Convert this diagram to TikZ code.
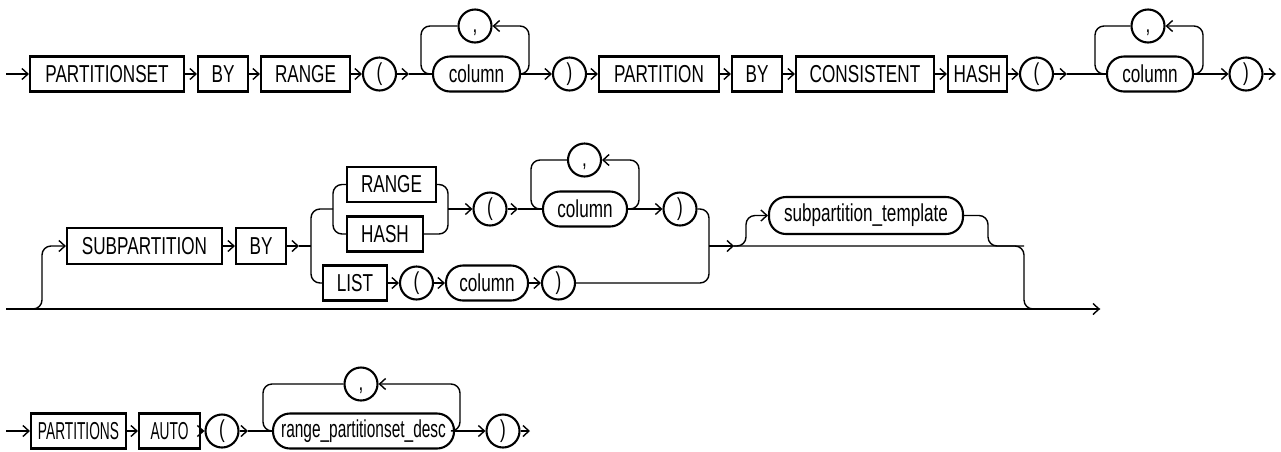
\documentclass[tikz,border=0pt]{standalone}
\usepackage{fontspec}
\setmainfont{Liberation Sans}[FakeStretch=0.70]
\newfontfamily\narrowcaps{Liberation Sans}[FakeStretch=0.56]
\newfontfamily\narrowlow{Liberation Sans}[FakeStretch=0.63]
\usetikzlibrary{arrows.meta}
\tikzset{
  kw/.style={draw, line width=2.1pt, minimum height=35pt, inner sep=0pt, font=\fontsize{24.5}{28}\selectfont},
  nt/.style={kw, rounded corners=17pt},
  sym/.style={draw, circle, line width=2.1pt, minimum size=33pt, inner sep=0pt, text height=17pt, text depth=4pt, font=\fontsize{24.5}{28}\selectfont},
  conn/.style={line width=1.4pt},
  tip/.style={-{Straight Barb[length=6pt,width=11pt]}},
  arr/.style={conn, tip},
  lp/.style={conn, rounded corners=9pt}
}
\begin{document}
\begin{tikzpicture}[x=1pt,y=-1pt]
\useasboundingbox (0,0) rectangle (1281,451);
% ---------------- Row 1 ----------------
\node[kw, minimum width=154pt] (pset) at (107,74) {PARTITIONSET};
\node[kw, minimum width=50pt] (by1) at (223,74) {BY};
\node[kw, minimum width=89pt] (rng1) at (305.5,74) {RANGE};
\node[sym] (lp1) at (379.5,74) {(};
\node[nt, minimum width=87pt] (col1) at (476.5,74) {column};
\node[sym] (c1) at (475,26) {,};
\node[sym] (rp1) at (569.5,74) {)};
\node[kw, minimum width=120pt] (part) at (659,74) {PARTITION};
\node[kw, minimum width=50pt] (by2) at (757,74) {BY};
\node[kw, minimum width=138pt] (cons) at (865,74) {CONSISTENT};
\node[kw, minimum width=59pt] (hsh1) at (977.5,74) {HASH};
\node[sym] (lp2) at (1036.5,74) {(};
\node[nt, minimum width=86pt] (col2) at (1150,74) {column};
\node[sym] (c2) at (1148,26) {,};
\node[sym] (rp2) at (1246,74) {)};
\coordinate (s1) at (6,74);
\coordinate (a1) at (409,74);
\coordinate (l1l) at (421,74);
\coordinate (l1r) at (529,74);
\coordinate (a2) at (1067,74);
\coordinate (l2l) at (1095,74);
\coordinate (l2r) at (1203,74);
\coordinate (e1) at (1276,74);
\draw[arr] (s1) -- (pset);
\draw[arr] (pset) -- (by1);
\draw[arr] (by1) -- (rng1);
\draw[arr] (rng1) -- (lp1);
\draw[arr] (lp1) -- (a1);
\draw[conn] (a1) -- (col1);
\draw[lp, tip] (col1.east) -- (l1r) -- (l1r |- c1) -- (c1);
\draw[lp] (c1) -- (l1l |- c1) -- (l1l) -- (col1.west);
\draw[arr] (col1) -- (rp1);
\draw[arr] (rp1) -- (part);
\draw[arr] (part) -- (by2);
\draw[arr] (by2) -- (cons);
\draw[arr] (cons) -- (hsh1);
\draw[arr] (hsh1) -- (lp2);
\draw[arr] (lp2) -- (a2);
\draw[conn] (a2) -- (col2);
\draw[lp, tip] (col2.east) -- (l2r) -- (l2r |- c2) -- (c2);
\draw[lp] (c2) -- (l2l |- c2) -- (l2l) -- (col2.west);
\draw[arr] (col2) -- (rp2);
\draw[arr] (rp2) -- (e1);
% ---------------- Row 2 ----------------
\node[kw, minimum width=155pt, minimum height=36pt] (sub) at (144.5,246) {SUBPARTITION};
\node[kw, minimum width=50pt, minimum height=36pt] (by3) at (261,246) {BY};
\node[kw, minimum width=89pt] (rng2) at (391.5,184.5) {RANGE};
\node[kw, minimum width=76pt] (hsh2) at (385,234) {HASH};
\node[kw, minimum width=64pt] (lst) at (355,283) {LIST};
\node[sym] (lp3) at (416.5,283) {(};
\node[nt, minimum width=82pt] (col3) at (487,283) {column};
\node[sym] (rp3) at (558.5,283) {)};
\node[sym] (lp4) at (490,209) {(};
\node[nt, minimum width=84pt] (col4) at (585,209) {column};
\node[sym] (c4) at (584.5,160) {,};
\node[sym] (rp4) at (680,209) {)};
\node[nt, minimum width=194pt, minimum height=37pt] (tmpl) at (866,215.5) {subpartition\_template};
\coordinate (s2) at (6,309);
\coordinate (e2) at (1100,309);
\coordinate (j2a) at (42,309);
\coordinate (a3) at (299,246);
\coordinate (j3) at (311,246);
\coordinate (j3u) at (333,209);
\coordinate (j4) at (448,209);
\coordinate (a4) at (518,209);
\coordinate (l4l) at (531,209);
\coordinate (l4r) at (639,209);
\coordinate (j5) at (709,246);
\coordinate (a5) at (734,246);
\coordinate (t1) at (746,246);
\coordinate (t2) at (988,246);
\coordinate (j6) at (1024,246);
\draw[arr] (s2) -- (e2);
\draw[lp, tip] (s2) -- (j2a) -- (j2a |- sub) -- (sub);
\draw[arr] (sub) -- (by3);
\draw[arr] (by3) -- (a3);
\draw[conn] (a3) -- (j3);
\draw[lp] (j3u) -- (j3 |- j3u) -- (j3 |- lst) -- (lst);
\draw[lp] (rng2) -- (j3u |- rng2) -- (j3u |- hsh2) -- (hsh2);
\draw[lp] (rng2) -- (j4 |- rng2) -- (j4 |- hsh2) -- (hsh2);
\draw[arr] (j4) -- (lp4);
\draw[arr] (lp4) -- (a4);
\draw[conn] (a4) -- (col4);
\draw[lp, tip] (col4.east) -- (l4r) -- (l4r |- c4) -- (c4);
\draw[lp] (c4) -- (l4l |- c4) -- (l4l) -- (col4.west);
\draw[arr] (col4) -- (rp4);
\draw[arr] (lst) -- (lp3);
\draw[arr] (lp3) -- (col3);
\draw[arr] (col3) -- (rp3);
\draw[lp] (rp4) -- (j5 |- rp4) -- (j5 |- rp3) -- (rp3);
\draw[arr] (j5) -- (a5);
\draw[lp] (a5) -- (j6) -- (j6 |- e2) -- (e2);
\draw[lp, tip] (j5) -- (t1) -- (t1 |- tmpl) -- (tmpl);
\draw[lp] (tmpl) -- (t2 |- tmpl) -- (t2) -- (j6);
% ---------------- Row 3 ----------------
\node[kw, minimum width=95pt, font=\fontsize{24.5}{28}\narrowcaps] (pns) at (78.5,431) {PARTITIONS};
\node[kw, minimum width=61pt, font=\fontsize{24.5}{28}\narrowcaps] (auto) at (169.5,431) {AUTO};
\node[sym] (lp6) at (222,431) {(};
\node[nt, minimum width=181pt, font=\fontsize{24.5}{28}\narrowlow] (col5) at (363.5,431) {range\_partitionset\_desc};
\node[sym] (c6) at (361,384) {,};
\node[sym] (rp6) at (503,431) {)};
\coordinate (s3) at (6,431);
\coordinate (a6) at (248,431);
\coordinate (l6l) at (263,431);
\coordinate (l6r) at (460,431);
\coordinate (e3) at (530,431);
\draw[arr] (s3) -- (pns);
\draw[arr] (pns) -- (auto);
\draw[arr] (auto) -- (lp6);
\draw[arr] (lp6) -- (a6);
\draw[conn] (a6) -- (col5);
\draw[lp, tip] (col5.east) -- (l6r) -- (l6r |- c6) -- (c6);
\draw[lp] (c6) -- (l6l |- c6) -- (l6l) -- (col5.west);
\draw[arr] (col5) -- (rp6);
\draw[arr] (rp6) -- (e3);
\end{tikzpicture}
\end{document}
